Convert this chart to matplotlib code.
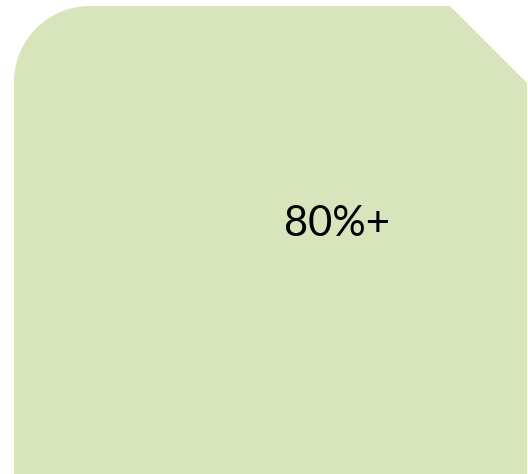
import numpy as np
import matplotlib.pyplot as plt
from matplotlib.patches import Polygon

label = "80%+"
fill_color = "#d8e4bc"

# shape outline (pixel coords, y down)
left, top, right, bottom = 14, 6, 527, 474
radius = 76
cut = 77

fig = plt.figure(figsize=(5.28, 4.74), dpi=100)
ax = fig.add_axes([0, 0, 1, 1])
ax.set_xlim(0, 528)
ax.set_ylim(474, 0)
ax.axis("off")

t = np.linspace(np.pi, 1.5 * np.pi, 40)
arc = np.column_stack((left + radius + radius * np.cos(t),
                       top + radius + radius * np.sin(t)))
pts = [(left, bottom)] + [tuple(p) for p in arc] + [
    (right - cut, top), (right, top + cut), (right, bottom)]
ax.add_patch(Polygon(pts, closed=True, facecolor=fill_color, edgecolor="none"))

ax.text(337, 224, label, ha="center", va="center", fontsize=30,
        family="Lato", color="black")

fig.savefig("out.png", dpi=100)
